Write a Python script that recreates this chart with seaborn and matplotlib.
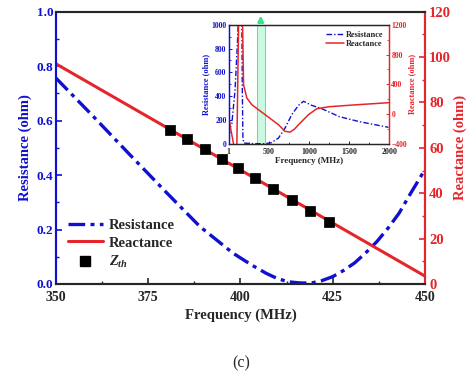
import matplotlib
matplotlib.use('Agg')
import matplotlib.pyplot as plt
from matplotlib.lines import Line2D
from matplotlib.ticker import MultipleLocator
import numpy as np
import pandas as pd
import seaborn as sns

# main panel
freq_r = [350, 360, 370, 380, 389, 398, 403, 407, 410, 413, 416, 419, 422,
          425, 428, 431, 434, 437, 440, 443, 446, 450]
resistance = [0.756, 0.617, 0.475, 0.335, 0.211, 0.113, 0.07, 0.039, 0.02,
              0.008, 0.004, 0.003, 0.012, 0.027, 0.05, 0.078, 0.115, 0.156,
              0.205, 0.26, 0.33, 0.42]
freq_x = [350, 450]
reactance = [97.0, 3.5]
freq_zth = [381, 385.6, 390.4, 394.9, 399.2, 403.9, 408.9, 413.9, 418.8, 424.1]
zth = [67.8, 63.7, 59.6, 55.3, 50.9, 46.5, 41.7, 37.0, 32.3, 27.1]

# inset (wide band)
in_freq_r = [1, 40, 80, 110, 124, 140, 160, 170, 178, 190, 300, 450, 530, 621,
             703, 786, 870, 932, 1035, 1160, 1380, 1630, 1990]
in_res = [110, 170, 450, 850, 1100, 1600, 1600, 500, 50, 8, 3, 3, 10, 50,
          134, 246, 324, 358, 324, 296, 229, 187, 140]
in_freq_x = [1, 30, 62, 80, 103, 124, 140, 160, 174, 186, 227, 289, 455, 621,
             703, 765, 820, 870, 994, 1097, 1250, 1548, 1990]
in_reac = [-30, -220, -400, -800, -400, 1200, 1800, 1800, 1200, 395, 217, 127,
           -7, -141, -230, -240, -200, -141, -7, 73, 100, 123, 154]

BLUE = '#1010d0'
RED = '#e4262c'
GREEN = '#2ee88a'

sns.set_style('ticks')
plt.rcParams['font.family'] = ['Liberation Serif', 'DejaVu Serif']
plt.rcParams['font.weight'] = 'bold'
plt.rcParams['axes.labelweight'] = 'bold'
plt.rcParams['mathtext.fontset'] = 'custom'
plt.rcParams['mathtext.it'] = 'Liberation Serif:italic:bold'
plt.rcParams['mathtext.rm'] = 'Liberation Serif:bold'
plt.rcParams['xtick.direction'] = 'in'
plt.rcParams['ytick.direction'] = 'in'

fig = plt.figure(figsize=(4.69, 3.77), dpi=100)
ax = fig.add_axes([0.1194, 0.2467, 0.7866, 0.7223])
ax2 = ax.twinx()

dashdot = (0, (5, 1.6, 1.2, 1.6))
sns.lineplot(x=freq_r, y=resistance, ax=ax, color=BLUE, lw=2.4,
             linestyle=dashdot)
sns.lineplot(x=freq_x, y=reactance, ax=ax2, color=RED, lw=2.2)
sns.scatterplot(x=freq_zth, y=zth, ax=ax2, marker='s', color='black', s=42,
                edgecolor='black', zorder=5)

ax.set_xlim(350, 450)
ax.set_ylim(0, 1.0)
ax2.set_ylim(0, 120)
ax.xaxis.set_major_locator(MultipleLocator(25))
ax.xaxis.set_minor_locator(MultipleLocator(12.5))
ax.yaxis.set_major_locator(MultipleLocator(0.2))
ax.yaxis.set_minor_locator(MultipleLocator(0.1))
ax2.yaxis.set_major_locator(MultipleLocator(20))
ax2.yaxis.set_minor_locator(MultipleLocator(10))
ax.yaxis.set_major_formatter(matplotlib.ticker.FormatStrFormatter('%.1f'))

ax.tick_params(axis='x', which='major', length=4, width=1.2, labelsize=10,
               pad=5, top=False)
ax.tick_params(axis='x', which='minor', length=2.5, width=1.0, top=False)
ax.tick_params(axis='y', which='major', length=4, width=1.2, labelsize=9.5,
               colors=BLUE, pad=2)
ax.tick_params(axis='y', which='minor', length=2.5, width=1.0, colors=BLUE)
ax2.tick_params(axis='y', which='major', length=4, width=1.2, labelsize=10.5,
                colors=RED, pad=3)
ax2.tick_params(axis='y', which='minor', length=2.5, width=1.0, colors=RED)

for a in (ax, ax2):
    for s in a.spines.values():
        s.set_linewidth(1.5)
        s.set_visible(True)
ax2.spines['left'].set_color(BLUE)
ax2.spines['right'].set_color(RED)
ax.spines['left'].set_color(BLUE)
ax.spines['right'].set_color(RED)

ax.set_xlabel('Frequency (MHz)', fontsize=10.5, labelpad=3)
ax.set_ylabel('Resistance (ohm)', fontsize=10.5, color=BLUE, labelpad=3)
ax2.set_ylabel('Reactance (ohm)', fontsize=10.5, color=RED, labelpad=2)

for a in (ax, ax2):
    if a.get_legend() is not None:
        a.get_legend().remove()

handles = [Line2D([], [], color=BLUE, lw=2.4, linestyle=dashdot),
           Line2D([], [], color=RED, lw=2.2),
           Line2D([], [], color='black', marker='s', linestyle='none',
                  markersize=6.5)]
labels = ['Resistance', 'Reactance', r'$Z_{th}$']
ax2.legend(handles, labels, loc='lower left', bbox_to_anchor=(0.016, 0.03),
           borderaxespad=0, frameon=False, fontsize=10.5, handlelength=2.4,
           handletextpad=0.4, labelspacing=0.3)

# inset
ins = fig.add_axes([0.4876, 0.618, 0.3424, 0.3165])
ins2 = ins.twinx()
ins.axvspan(350, 450, color=GREEN, alpha=0.25, lw=0)
ins.axvline(350, color=GREEN, lw=0.6)
ins.axvline(450, color=GREEN, lw=0.6)
sns.lineplot(x=in_freq_r, y=in_res, ax=ins, color=BLUE, lw=1.0,
             linestyle=(0, (4, 1.5, 1, 1.5)), sort=False, label='Resistance')
sns.lineplot(x=in_freq_x, y=in_reac, ax=ins2, color=RED, lw=1.1, sort=False,
             label='Reactance')
ins.set_xlim(1, 2000)
ins.set_ylim(0, 1000)
ins2.set_ylim(-400, 1200)
ins.set_xticks([1, 500, 1000, 1500, 2000])
ins.xaxis.set_minor_locator(MultipleLocator(250))
ins.yaxis.set_major_locator(MultipleLocator(200))
ins.yaxis.set_minor_locator(MultipleLocator(100))
ins2.yaxis.set_major_locator(MultipleLocator(400))
ins2.yaxis.set_minor_locator(MultipleLocator(200))
ins.tick_params(axis='x', which='major', length=2.5, width=0.7, labelsize=5.8,
                pad=3.2, top=False)
ins.tick_params(axis='x', which='minor', length=1.5, width=0.6, top=False)
ins.tick_params(axis='y', which='major', length=2.5, width=0.7, labelsize=5.5,
                colors=BLUE, pad=1.5)
ins.tick_params(axis='y', which='minor', length=1.5, width=0.6, colors=BLUE)
ins2.tick_params(axis='y', which='major', length=2.5, width=0.7, labelsize=5.5,
                 colors=RED, pad=1.5)
ins2.tick_params(axis='y', which='minor', length=1.5, width=0.6, colors=RED)
for a in (ins, ins2):
    for s in a.spines.values():
        s.set_linewidth(0.9)
        s.set_visible(True)
    a.spines['left'].set_color(BLUE)
    a.spines['right'].set_color(RED)
ins.set_xlabel('Frequency (MHz)', fontsize=6.5, labelpad=0.5)
ins.set_ylabel('Resistance (ohm)', fontsize=6, color=BLUE, labelpad=1)
ins2.set_ylabel('Reactance (ohm)', fontsize=6, color=RED, labelpad=1)

ins.get_legend().remove()
ins2.get_legend().remove()
h1, l1 = ins.get_legend_handles_labels()
h2, l2 = ins2.get_legend_handles_labels()
ins2.legend(h1 + h2, l1 + l2, loc='upper right', frameon=False, fontsize=6,
            handlelength=2.2, handletextpad=0.2, labelspacing=0.2,
            borderaxespad=0.3)

ins.annotate('', xy=(400, 1.1), xytext=(400, 1.0),
             xycoords=('data', 'axes fraction'),
             textcoords=('data', 'axes fraction'), annotation_clip=False,
             arrowprops=dict(arrowstyle='-|>', color=GREEN, lw=1.8,
                             mutation_scale=8))

fig.text(0.515, 0.037, '(c)', fontsize=11.5, fontweight='normal',
         ha='center', va='center')

fig.savefig('out.png', dpi=100)
